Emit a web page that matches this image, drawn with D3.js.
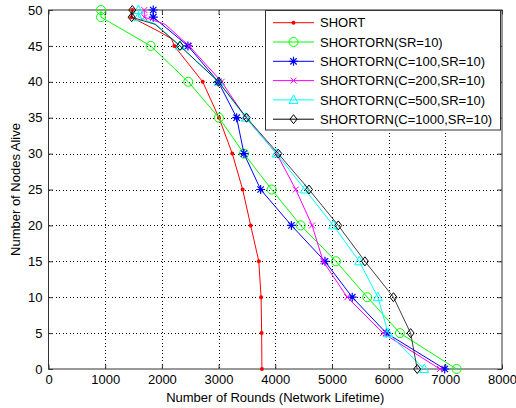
<!DOCTYPE html>
<html>
<head>
<meta charset="utf-8">
<script src="https://cdn.jsdelivr.net/npm/d3@7"></script>
<style>
  body { margin: 0; background: #fff; }
  svg text { font-family: "Liberation Sans", Arial, sans-serif; font-size: 13px; fill: #000; }
</style>
</head>
<body>
<script>
// nodes alive / rounds, one pair of arrays per curve
var shortNodes  = [50, 49, 47, 46, 45, 40, 35, 30, 25, 20, 15, 10, 5, 0]
var shortRounds = [1480, 1460, 1950, 2170, 2219, 2720, 3007, 3242, 3425, 3566, 3710, 3750, 3760, 3765]
var srNodes     = [50, 49, 45, 40, 35, 30, 25, 20, 15, 10, 5, 0]
var srRounds    = [926, 926, 1802, 2466, 3007, 3448, 3936, 4448, 5071, 5623, 6199, 7199]
var c100Nodes   = [50, 49, 45, 40, 35, 30, 25, 20, 15, 10, 5, 0]
var c100Rounds  = [1848, 1848, 2460, 2995, 3319, 3448, 3742, 4285, 4877, 5358, 5960, 6990]
var c200Nodes   = [50, 49, 48, 45, 40, 35, 30, 25, 20, 15, 10, 5, 0]
var c200Rounds  = [1690, 1690, 2060, 2480, 3054, 3478, 4024, 4362, 4650, 4845, 5270, 5900, 6905]
var c500Nodes   = [50, 49, 48, 45, 40, 35, 30, 25, 20, 15, 10, 5, 0]
var c500Rounds  = [1585, 1585, 1900, 2319, 3000, 3478, 4020, 4524, 5023, 5481, 5810, 5993, 6628]
var c1000Nodes  = [50, 49, 48, 45, 40, 35, 30, 25, 20, 15, 10, 5, 0]
var c1000Rounds = [1478, 1467, 1880, 2319, 3000, 3495, 4053, 4595, 5111, 5582, 6085, 6388, 6504]

var names = ['SHORT', 'SHORTORN(SR=10)', 'SHORTORN(C=100,SR=10)', 'SHORTORN(C=200,SR=10)',
             'SHORTORN(C=500,SR=10)', 'SHORTORN(C=1000,SR=10)']
var colors = ['#ff0000', '#00ff00', '#0000ff', '#ff00ff', '#00ffff', '#000000']
var markers = ['dot', 'circle', 'star', 'x', 'triangle', 'diamond']

var xTicks = [0, 1000, 2000, 3000, 4000, 5000, 6000, 7000, 8000]
var yTicks = [0, 5, 10, 15, 20, 25, 30, 35, 40, 45, 50]

var allNodes = [shortNodes, srNodes, c100Nodes, c200Nodes, c500Nodes, c1000Nodes]
var series = [shortRounds, srRounds, c100Rounds, c200Rounds, c500Rounds, c1000Rounds].map(function(r, i){
  return {name: names[i], color: colors[i], marker: markers[i],
          pts: r.map(function(v, j){ return {x: v, y: allNodes[i][j]} })}
})

// matlab put a marker on every 5th node (plus the 49 one)
function hasMarker(p){ return p.y % 5 == 0 || p.y == 49 }

var W = 516, H = 408
var L = 48.5, R = 502, T = 10, B = 369

var svg = d3.select('body').append('svg').attr('width', W).attr('height', H)
svg.append('rect').attr('width', W).attr('height', H).attr('fill', '#fff')

var x = d3.scaleLinear().domain([0, 8000]).range([L, R])
var y = d3.scaleLinear().domain([0, 50]).range([B, T])

// grid
var grid = svg.append('g').attr('stroke', '#000').attr('stroke-width', 1)
  .attr('stroke-dasharray', '1,2.5').attr('shape-rendering', 'crispEdges')
grid.selectAll('line.gx').data(xTicks.slice(1, -1)).enter().append('line')
  .attr('x1', function(d){ return Math.round(x(d)) + 0.5 }).attr('x2', function(d){ return Math.round(x(d)) + 0.5 })
  .attr('y1', T).attr('y2', B)
grid.selectAll('line.gy').data(yTicks.slice(1, -1)).enter().append('line')
  .attr('y1', function(d){ return Math.round(y(d)) + 0.5 }).attr('y2', function(d){ return Math.round(y(d)) + 0.5 })
  .attr('x1', L).attr('x2', R)

// axes, ticks pointing inward like matlab
svg.append('g').attr('transform', 'translate(0,' + B + ')')
  .call(d3.axisBottom(x).tickValues(xTicks).tickSize(-4.5).tickPadding(6).tickFormat(d3.format('d')))
svg.append('g').attr('transform', 'translate(' + L + ',0)')
  .call(d3.axisLeft(y).tickValues(yTicks).tickSize(-4.5).tickPadding(6))
svg.append('g').attr('transform', 'translate(0,' + T + ')')
  .call(d3.axisTop(x).tickValues(xTicks).tickSize(-4.5).tickFormat(''))
svg.append('g').attr('transform', 'translate(' + R + ',0)')
  .call(d3.axisRight(y).tickValues(yTicks).tickSize(-4.5).tickFormat(''))

svg.selectAll('.domain').remove()
svg.selectAll('.tick line').attr('stroke', '#333')
svg.selectAll('.tick text').attr('font-family', null).attr('font-size', null)
svg.append('rect').attr('x', L).attr('y', T).attr('width', R - L).attr('height', B - T)
  .attr('fill', 'none').attr('stroke', '#333').attr('stroke-width', 1)

// curves
var line = d3.line().x(function(d){ return x(d.x) }).y(function(d){ return y(d.y) })

function drawMarker(g, type, color){
  if (type == 'dot') {
    g.append('circle').attr('r', 2).attr('fill', color)
  } else if (type == 'circle') {
    g.append('circle').attr('r', 4.5).attr('fill', 'none').attr('stroke', color)
  } else if (type == 'star') {
    g.append('path').attr('d', 'M-4.5,0H4.5M0,-4.5V4.5M-3.2,-3.2L3.2,3.2M-3.2,3.2L3.2,-3.2')
      .attr('stroke', color).attr('stroke-width', 1.2)
  } else if (type == 'x') {
    g.append('path').attr('d', 'M-3,-3L3,3M-3,3L3,-3').attr('stroke', color)
  } else if (type == 'triangle') {
    g.append('path').attr('d', 'M0,-5L4.5,3.5H-4.5Z').attr('fill', 'none').attr('stroke', color)
  } else if (type == 'diamond') {
    g.append('path').attr('d', 'M0,-4.5L3.5,0L0,4.5L-3.5,0Z').attr('fill', 'none').attr('stroke', color)
  }
}

series.forEach(function(s){
  var g = svg.append('g')
  g.append('path').attr('d', line(s.pts)).attr('fill', 'none')
    .attr('stroke', s.color).attr('stroke-width', 1).attr('opacity', s.color == '#000000' ? 0.75 : 1)
  s.pts.filter(hasMarker).forEach(function(p){
    drawMarker(g.append('g').attr('transform', 'translate(' + x(p.x) + ',' + y(p.y) + ')'), s.marker, s.color)
  })
})

// legend
var lg = svg.append('g')
lg.append('rect').attr('x', 265.5).attr('y', 10.5).attr('width', 235).attr('height', 119.5)
  .attr('fill', '#fff').attr('stroke', '#333')
series.forEach(function(s, i){
  var ry = 22.7 + i * 19.3
  lg.append('line').attr('x1', 273).attr('x2', 314).attr('y1', ry).attr('y2', ry).attr('stroke', s.color)
  drawMarker(lg.append('g').attr('transform', 'translate(293.5,' + ry + ')'), s.marker, s.color)
  lg.append('text').attr('x', 320).attr('y', ry).attr('dy', '0.36em').text(s.name)
})

// axis labels
svg.append('text').attr('x', (L + R) / 2).attr('y', 402).attr('text-anchor', 'middle')
  .text('Number of Rounds (Network Lifetime)')
svg.append('text').attr('transform', 'translate(19.5,' + (T + B) / 2 + ') rotate(-90)')
  .attr('text-anchor', 'middle').text('Number of Nodes Alive')
</script>
</body>
</html>
